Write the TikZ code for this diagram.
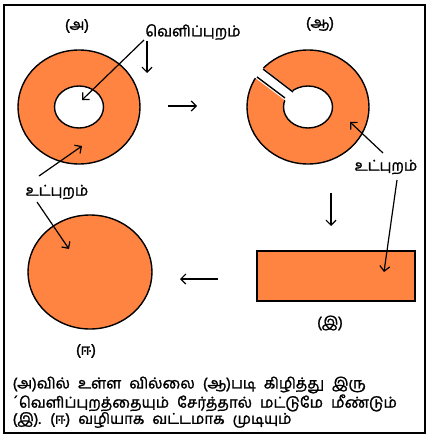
\documentclass[tikz,border=0pt]{standalone}
\usepackage{fontspec}
\newfontfamily\tafont[Script=Tamil, FakeBold=1.5]{Hind Madurai}
\newcommand\capfont{\tafont\fontsize{15}{16.2}\selectfont\spaceskip 8pt\relax}
\usetikzlibrary{arrows.meta, positioning}
\definecolor{corange}{HTML}{FF8442}
\tikzset{
  every picture/.style={line width=1.3pt},
  part/.style={draw=black, fill=corange, line width=1.4pt},
  arrow/.style={-{Straight Barb[length=5pt, width=10pt]}, line width=1.2pt},
  tag/.style={font=\tafont\fontsize{15}{16}\selectfont, inner sep=1pt},
  caption/.style={font=\capfont, align=left, anchor=north west, inner sep=0pt},
}

\begin{document}
\begin{tikzpicture}[x=1pt, y=-1pt]
  \useasboundingbox (0,0) rectangle (430,439);
  \draw[line width=2.2pt] (4,5) rectangle (425,433);
  % ring (a): whole
  \path[part, even odd rule] (79,107) ellipse [x radius=61, y radius=57]
                             (79,107) ellipse [x radius=24.5, y radius=21];
  \node[tag] (la) at (77,26) {(அ)};
  % ring (aa): torn open
  \path[part, even odd rule] (308,107) ellipse [x radius=61, y radius=57]
                             (308,107) ellipse [x radius=24.5, y radius=21];
  \fill[white] (258,64) -- (298,95) -- (290,104) -- (250,74) -- cycle;
  \draw[line width=1.4pt] (263,69) -- (293,92);
  \draw[line width=1.4pt] (257,77) -- (285,98);
  \node[tag] (lb) at (320,24) {(ஆ)};
  % strip (i)
  \path[part, line width=2pt] (257,251) rectangle (415,301);
  \node[tag] (lc) at (330,323) {(இ)};
  % disc (ii)
  \path[part] (90,272) ellipse [x radius=62, y radius=57];
  \node[tag] (ld) at (86,351) {(ஈ)};
  % outer / inner labels
  \node[tag] (outer) at (193,32) {வெளிப்புறம்};
  \node[tag] (innerl) at (57,192) {உட்புறம்};
  \node[tag] (innerr) at (386,167) {உட்புறம்};
  \coordinate (hole) at (82,100);
  \coordinate (rim) at (147,73);
  \coordinate (bandl) at (82,146);
  \coordinate (discin) at (69,249);
  \coordinate (bandr) at (350,122);
  \coordinate (stripin) at (384,272);
  \draw[arrow] (144,40) -- (hole);
  \draw[arrow] (147,41) -- (rim);
  \draw[arrow] (39,176) -- (bandl);
  \draw[arrow] (37,202) -- (discin);
  \draw[arrow] (383,153) -- (bandr);
  \draw[arrow] (397,180) -- (stripin);
  % steps between the pictures
  \coordinate (s1) at (168,106);
  \coordinate (e1) at (197,106);
  \coordinate (s2) at (331,193);
  \coordinate (e2) at (331,226);
  \coordinate (s3) at (218,279);
  \coordinate (e3) at (180,279);
  \draw[arrow] (s1) -- (e1);
  \draw[arrow] (s2) -- (e2);
  \draw[arrow] (s3) -- (e3);
  % caption
  \node[caption] (cap) at (12,376) {(அ)வில் உள்ள வில்லை (ஆ)படி கிழித்து இரு\\
    ´வெளிப்புறத்தையும் சேர்த்தால் மட்டுமே மீண்டும்\\
    (இ). (ஈ) வழியாக வட்டமாக முடியும்};
\end{tikzpicture}
\end{document}
